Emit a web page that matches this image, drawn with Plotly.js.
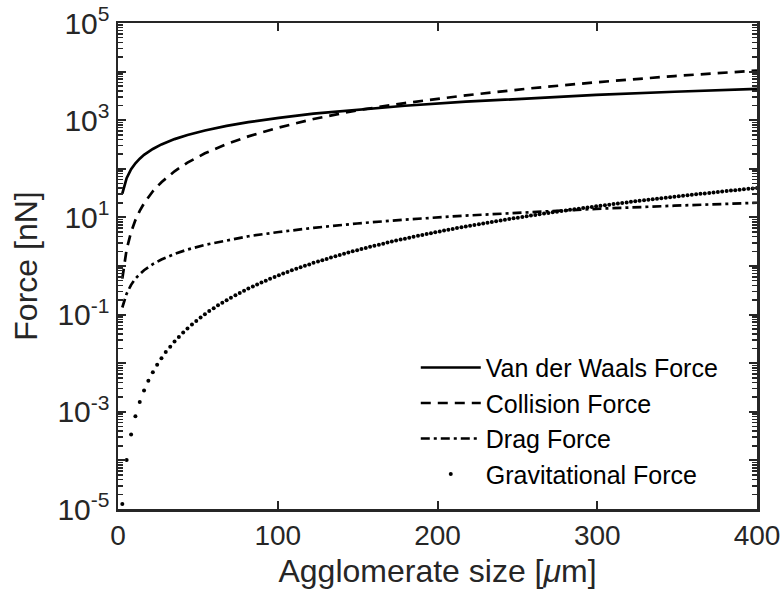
<!DOCTYPE html>
<html>
<head>
<meta charset="utf-8">
<script src="https://cdn.plot.ly/plotly-3.0.1.min.js"></script>
<style>html,body{margin:0;padding:0;background:#fff}#chart{width:784px;height:601px}</style>
</head>
<body>
<div id="chart"></div>
<script>
// Agglomerate size [µm] sampled for the line curves
const lineSizes = [2.7, 5.4, 8.2, 10.9, 13.6, 16.3, 21.8, 27.2, 35.4, 43.5, 54.4, 68.0, 81.6, 100.7, 122.4, 149.7, 179.6, 217.7, 258.5, 299.3, 348.3, 400.0];
// Force values [nN]
const vanDerWaals = [31, 64, 98, 130, 162, 194, 256, 318, 408, 495, 615, 765, 910, 1120, 1360, 1650, 1980, 2400, 2860, 3310, 3850, 4400];
const collision = [0.55, 2.2, 5.0, 8.8, 13.6, 19.5, 34.5, 53, 89, 134, 208, 322, 465, 705, 1060, 1600, 2250, 3250, 4540, 6030, 8100, 10500];
const drag = [0.14, 0.27, 0.41, 0.55, 0.68, 0.82, 1.09, 1.36, 1.77, 2.18, 2.72, 3.4, 4.1, 5.0, 6.1, 7.5, 9.0, 10.9, 12.9, 15.0, 17.4, 20.0];

// Gravitational force is drawn as individual dots
const dotSizes = [2.7, 5.4, 8.2, 10.9, 13.6, 16.3, 19.0, 21.8, 24.5, 27.2, 29.9, 32.7, 35.4, 38.1, 40.8, 43.5, 46.3, 49.0, 51.7, 54.4,
  57.1, 59.9, 62.6, 65.3, 68.0, 70.7, 73.5, 76.2, 78.9, 81.6, 84.4, 87.1, 89.8, 92.5, 95.2, 98.0, 100.7, 103.4, 106.1, 108.8,
  111.6, 114.3, 117.0, 119.7, 122.4, 125.2, 127.9, 130.6, 133.3, 136.1, 138.8, 141.5, 144.2, 146.9, 149.7, 152.4, 155.1, 157.8, 160.5, 163.3,
  166.0, 168.7, 171.4, 174.1, 176.9, 179.6, 182.3, 185.0, 187.8, 190.5, 193.2, 195.9, 198.6, 201.4, 204.1, 206.8, 209.5, 212.2, 215.0, 217.7,
  220.4, 223.1, 225.9, 228.6, 231.3, 234.0, 236.7, 239.5, 242.2, 244.9, 247.6, 250.3, 253.1, 255.8, 258.5, 261.2, 263.9, 266.7, 269.4, 272.1,
  274.8, 277.6, 280.3, 283.0, 285.7, 288.4, 291.2, 293.9, 296.6, 299.3, 302.0, 304.8, 307.5, 310.2, 312.9, 315.6, 318.4, 321.1, 323.8, 326.5,
  329.3, 332.0, 334.7, 337.4, 340.1, 342.9, 345.6, 348.3, 351.0, 353.7, 356.5, 359.2, 361.9, 364.6, 367.3, 370.1, 372.8, 375.5, 378.2, 381.0,
  383.7, 386.4, 389.1, 391.8, 394.6, 397.3, 400.0];
const gravitational = [1.27e-5, 1.02e-4, 3.43e-4, 8.13e-4, 1.59e-3, 2.74e-3, 4.36e-3, 6.50e-3, 9.26e-3, 1.27e-2, 1.69e-2, 2.19e-2, 2.79e-2, 3.48e-2, 4.29e-2, 5.20e-2, 6.24e-2, 7.41e-2, 8.71e-2, 0.102,
  0.118, 0.135, 0.155, 0.176, 0.198, 0.223, 0.250, 0.279, 0.310, 0.343, 0.378, 0.416, 0.456, 0.499, 0.545, 0.593, 0.643, 0.697, 0.753, 0.813,
  0.875, 0.941, 1.01, 1.08, 1.16, 1.24, 1.32, 1.40, 1.49, 1.59, 1.68, 1.79, 1.89, 2.00, 2.11, 2.23, 2.35, 2.48, 2.61, 2.74,
  2.88, 3.03, 3.18, 3.33, 3.49, 3.65, 3.82, 3.99, 4.17, 4.36, 4.55, 4.74, 4.94, 5.15, 5.36, 5.57, 5.80, 6.03, 6.26, 6.50,
  6.75, 7.00, 7.26, 7.53, 7.80, 8.08, 8.36, 8.65, 8.95, 9.26, 9.57, 9.89, 10.2, 10.5, 10.9, 11.2, 11.6, 12.0, 12.3, 12.7,
  13.1, 13.5, 13.9, 14.3, 14.7, 15.1, 15.6, 16.0, 16.4, 16.9, 17.4, 17.8, 18.3, 18.8, 19.3, 19.8, 20.3, 20.9, 21.4, 21.9,
  22.5, 23.1, 23.6, 24.2, 24.8, 25.4, 26.0, 26.6, 27.3, 27.9, 28.6, 29.2, 29.9, 30.6, 31.2, 31.9, 32.7, 33.4, 34.1, 34.8,
  35.6, 36.4, 37.1, 37.9, 38.7, 39.5, 40.3];

const seriesNames = ['Van der Waals Force', 'Collision Force', 'Drag Force', 'Gravitational Force'];
const xTickVals = [0, 100, 200, 300, 400];
const yTickVals = [1e-5, 1e-4, 1e-3, 1e-2, 1e-1, 1e0, 1e1, 1e2, 1e3, 1e4, 1e5];
const yTickText = ['10<sup>-5</sup>', '', '10<sup>-3</sup>', '', '10<sup>-1</sup>', '', '10<sup>1</sup>', '', '10<sup>3</sup>', '', '10<sup>5</sup>'];

// minor tick positions (axis styling)
const minorVals = [];
for (let e = -5; e < 5; e++) for (let m = 2; m <= 9; m++) minorVals.push(m * Math.pow(10, e));

const axisColor = '#262626';
const FONT = '"Liberation Sans", Arial, Helvetica, sans-serif';

const traces = [
  {x: lineSizes, y: vanDerWaals, name: seriesNames[0], mode: 'lines', line: {color: '#000', width: 2.7}},
  {x: lineSizes, y: collision, name: seriesNames[1], mode: 'lines', line: {color: '#000', width: 2.7, dash: '10px,7px'}},
  {x: lineSizes, y: drag, name: seriesNames[2], mode: 'lines', line: {color: '#000', width: 2.7, dash: '9px,4px,3px,4px'}},
  {x: dotSizes, y: gravitational, name: seriesNames[3], mode: 'markers', marker: {color: '#000', size: 4}}
];

const layout = {
  width: 784, height: 601,
  margin: {l: 118, r: 27, t: 23, b: 92},
  paper_bgcolor: '#fff', plot_bgcolor: '#fff',
  font: {family: FONT, color: axisColor},
  showlegend: true,
  legend: {
    x: 0.466, y: 0.338, xanchor: 'left', yanchor: 'top',
    bgcolor: 'rgba(0,0,0,0)', borderwidth: 0,
    font: {family: FONT, size: 25, color: '#000'},
    itemwidth: 60, tracegroupgap: 0
  },
  xaxis: {
    range: [0, 400], tickmode: 'array', tickvals: xTickVals, ticktext: xTickVals.map(String),
    ticks: 'inside', ticklen: 8, tickwidth: 2, tickcolor: axisColor,
    showline: true, linewidth: 2.5, linecolor: axisColor, mirror: 'ticks',
    showgrid: false, zeroline: false,
    tickfont: {family: FONT, size: 28, color: axisColor},
    title: {text: 'Agglomerate size [<i>μ</i>m]', font: {family: FONT, size: 32, color: axisColor}, standoff: 10}
  },
  yaxis: {
    type: 'log', range: [-5, 5], tickmode: 'array', tickvals: yTickVals, ticktext: yTickText,
    ticks: 'inside', ticklen: 8, tickwidth: 2, tickcolor: axisColor,
    minor: {tickmode: 'array', tickvals: minorVals, ticks: 'inside', ticklen: 5, tickwidth: 1.5, tickcolor: axisColor, showgrid: false},
    showline: true, linewidth: 2.5, linecolor: axisColor, mirror: 'ticks',
    showgrid: false, zeroline: false,
    tickfont: {family: FONT, size: 30, color: axisColor},
    title: {text: 'Force [nN]', font: {family: FONT, size: 32, color: axisColor}, standoff: 10}
  }
};

Plotly.newPlot('chart', traces, layout, {displayModeBar: false, staticPlot: true});
</script>
</body>
</html>
